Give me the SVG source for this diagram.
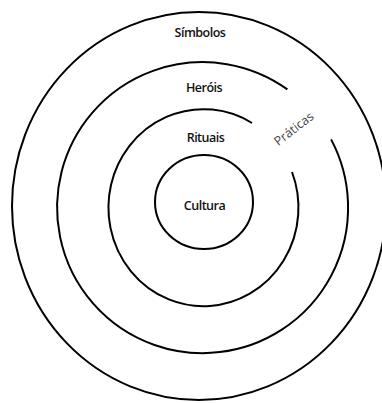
<svg xmlns="http://www.w3.org/2000/svg" width="382" height="403" viewBox="0 0 382 403">
<style>
.ring{fill:none;stroke:#000;stroke-width:2}
.lbl{font-family:"Open Sans","DejaVu Sans",sans-serif;font-size:12.5px;font-weight:600;letter-spacing:-0.5px;fill:#111;text-anchor:middle}
.prat{font-family:"Open Sans","DejaVu Sans",sans-serif;font-size:12.5px;fill:#444;text-anchor:middle}
</style>
<rect width="382" height="403" fill="#fff"/>
<g id="simbolos">
<ellipse class="ring" cx="199" cy="206" rx="187" ry="194"/>
<text class="lbl" x="200" y="37">Símbolos</text>
</g>
<g id="herois">
<path class="ring" d="M 287.4 89.4 A 145.5 145.5 0 1 0 331.1 139.4"/>
<text class="lbl" x="204" y="92">Heróis</text>
</g>
<g id="rituais">
<path class="ring" d="M 252 123 A 95 98.5 0 1 0 292 172"/>
<text class="lbl" x="205.5" y="142">Rituais</text>
</g>
<g id="cultura">
<ellipse class="ring" cx="204" cy="202" rx="49" ry="47"/>
<text class="lbl" x="204.5" y="210">Cultura</text>
</g>
<g id="praticas">
<text class="prat" x="294" y="133" transform="rotate(-38 294 129)">Práticas</text>
</g>
</svg>
